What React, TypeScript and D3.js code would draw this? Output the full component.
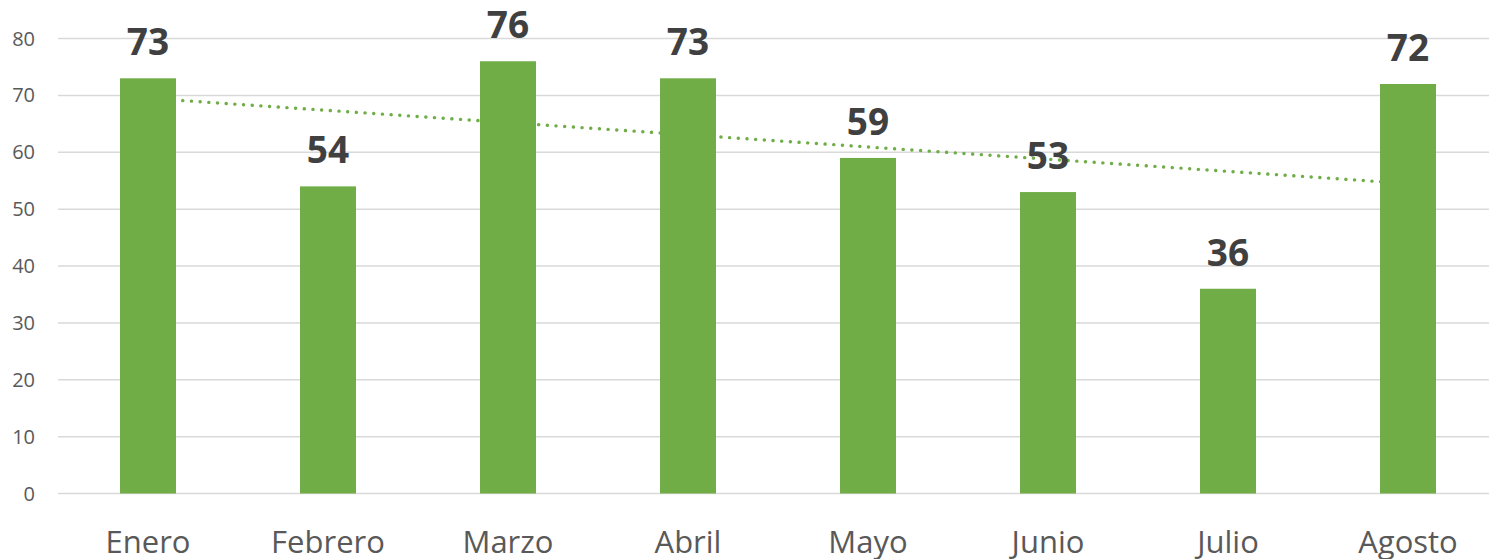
import React from "react";
import * as d3 from "d3";

const categories = ["Enero", "Febrero", "Marzo", "Abril", "Mayo", "Junio", "Julio", "Agosto"];
const values = [73, 54, 76, 73, 59, 53, 36, 72];
const yTicks = [0, 10, 20, 30, 40, 50, 60, 70, 80];

const W = 1489;
const H = 559;

export default function App() {
  const x = d3.scaleBand<string>().domain(categories).range([58, 1498]).paddingInner(0.689).paddingOuter(0.3445);
  const y = d3.scaleLinear().domain([0, 80]).range([493.5, 38.5]);

  // linear trendline (least squares)
  const idx = values.map((_, i) => i);
  const mx = d3.mean(idx) as number;
  const my = d3.mean(values) as number;
  const num = d3.sum(idx, (i) => (i - mx) * (values[i] - my));
  const den = d3.sum(idx, (i) => (i - mx) ** 2);
  const slope = num / den;
  const intercept = my - slope * mx;
  const cx = (c: string) => (x(c) as number) + x.bandwidth() / 2;
  const trend = d3.line<number>()
    .x((i) => cx(categories[i]))
    .y((i) => y(intercept + slope * i));

  const font = "'Open Sans', 'Liberation Sans', sans-serif";

  return (
    <svg width={W} height={H} style={{ position: "absolute", left: 0, top: 0 }} fontFamily={font}>
      <rect width={W} height={H} fill="#ffffff" />
      {yTicks.map((t) => (
        <g key={t}>
          <line x1={58} x2={1498} y1={y(t)} y2={y(t)} stroke="#d9d9d9" strokeWidth={1.5} />
          <text x={35} y={y(t)} dy="0.35em" textAnchor="end" fontSize={20} fill="#595959">
            {t}
          </text>
        </g>
      ))}
      <path
        d={trend([0, categories.length - 1]) as string}
        fill="none"
        stroke="#70ad47"
        strokeWidth={3.4}
        strokeLinecap="round"
        strokeDasharray="0.1 8.6"
      />
      {categories.map((c, i) => (
        <rect
          key={c}
          x={x(c)}
          y={y(values[i])}
          width={x.bandwidth()}
          height={y(0) - y(values[i])}
          fill="#70ad47"
        />
      ))}
      {categories.map((c, i) => (
        <text
          key={c + "-v"}
          x={cx(c)}
          y={y(values[i]) - 23}
          textAnchor="middle"
          fontSize={37}
          fontWeight="bold"
          fill="#404040"
        >
          {values[i]}
        </text>
      ))}
      {categories.map((c) => (
        <text key={c + "-l"} x={cx(c)} y={553} textAnchor="middle" fontSize={31} fill="#595959">
          {c}
        </text>
      ))}
    </svg>
  );
}
